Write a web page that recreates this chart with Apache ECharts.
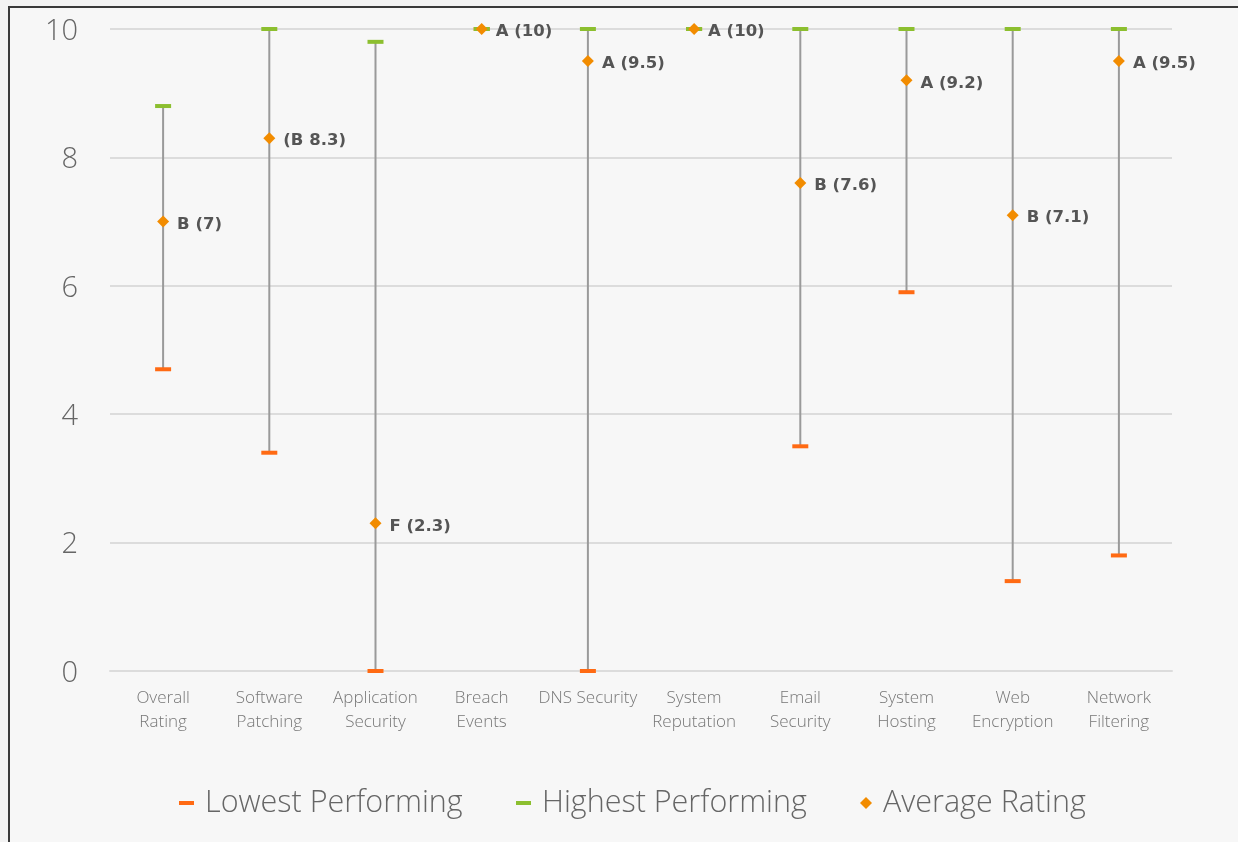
<!DOCTYPE html>
<html><head><meta charset="utf-8">
<script src="https://cdn.jsdelivr.net/npm/echarts@6/dist/echarts.min.js"></script>
<style>
html,body{margin:0;padding:0;background:#f3f3f3;width:1238px;height:842px;overflow:hidden}
#frame{position:absolute;left:8px;top:6px;width:1300px;height:900px;border-left:2px solid #3a3a3a;border-top:2px solid #3a3a3a;background:#f7f7f7}
#chart{position:absolute;left:0;top:0;width:1238px;height:842px}
</style></head>
<body><div id="frame"></div><div id="chart"></div>
<script>
const categories = ['Overall\nRating','Software\nPatching','Application\nSecurity','Breach\nEvents','DNS Security','System\nReputation','Email\nSecurity','System\nHosting','Web\nEncryption','Network\nFiltering'];
const lowest = [4.7, 3.4, 0, 10, 0, 10, 3.5, 5.9, 1.4, 1.8];
const highest = [8.8, 10, 9.8, 10, 10, 10, 10, 10, 10, 10];
const average = [7, 8.3, 2.3, 10, 9.5, 10, 7.6, 9.2, 7.1, 9.5];
const averageLabels = ['B (7)','(B 8.3)','F (2.3)','A (10)','A (9.5)','A (10)','B (7.6)','A (9.2)','B (7.1)','A (9.5)'];
const yTicks = [0, 2, 4, 6, 8, 10];

const chart = echarts.init(document.getElementById('chart'), null, {renderer:'canvas'});
const FONT = 'Open Sans';
const rangeData = categories.map((c,i)=>[i, lowest[i], highest[i]]);
const legendText = {fontFamily:FONT, fontSize:30.5, lineHeight:36, color:'#666', fontWeight:300, padding:[0,0,0,6]};
chart.setOption({
  backgroundColor:'transparent',
  animation:false,
  grid:{left:110, right:66, top:29, bottom:171},
  xAxis:{type:'category', data:categories, boundaryGap:true,
    axisLine:{show:true, lineStyle:{color:'#dcdcdc', width:2}},
    axisTick:{show:false},
    axisLabel:{interval:0, margin:15, fontFamily:FONT, fontSize:17, lineHeight:24, color:'#777', fontWeight:300}},
  yAxis:{type:'value', min:0, max:10, interval:2,
    axisLine:{show:false}, axisTick:{show:false},
    splitLine:{lineStyle:{color:'#dcdcdc', width:2}},
    axisLabel:{margin:32, color:'#666',
      formatter:v=> yTicks.includes(v) ? '{t|' + v + '}' : '',
      rich:{t:{fontFamily:FONT, fontSize:29, color:'#666', fontWeight:300, padding:[5,0,0,0]}}}},
  legend:[
    {data:['Lowest Performing'], left:179, top:785, padding:0, itemWidth:15, itemHeight:4, icon:'rect', textStyle:legendText},
    {data:['Highest Performing'], left:516, top:785, padding:0, itemWidth:15, itemHeight:4, icon:'rect', textStyle:legendText},
    {data:['Average Rating'], left:860, top:785, padding:0, itemWidth:12, itemHeight:12, icon:'diamond', textStyle:legendText}
  ],
  series:[
    {type:'custom', name:'range', data:rangeData, z:1, silent:true,
      renderItem:(params, api)=>{
        const p1 = api.coord([api.value(0), api.value(1)]);
        const p2 = api.coord([api.value(0), api.value(2)]);
        return {type:'line', shape:{x1:p1[0], y1:p1[1], x2:p2[0], y2:p2[1]}, style:{stroke:'#9a9a9a', lineWidth:2}};
      }},
    {type:'scatter', name:'Lowest Performing', data:lowest, symbol:'rect', symbolSize:[16,4], z:3,
      itemStyle:{color:'#ff6a13', opacity:1}},
    {type:'scatter', name:'Highest Performing', data:highest, symbol:'rect', symbolSize:[16,4], z:4,
      itemStyle:{color:'#8cbf2f', opacity:1}},
    {type:'scatter', name:'Average Rating', data:average, symbol:'diamond', symbolSize:12, z:5,
      itemStyle:{color:'#f28c00', opacity:1},
      label:{show:true, position:'right', distance:8, offset:[0,3],
        formatter:p=>averageLabels[p.dataIndex],
        fontFamily:'DejaVu Sans', fontWeight:'bold', fontSize:16.5, color:'#555'}}
  ]
});
</script></body></html>
